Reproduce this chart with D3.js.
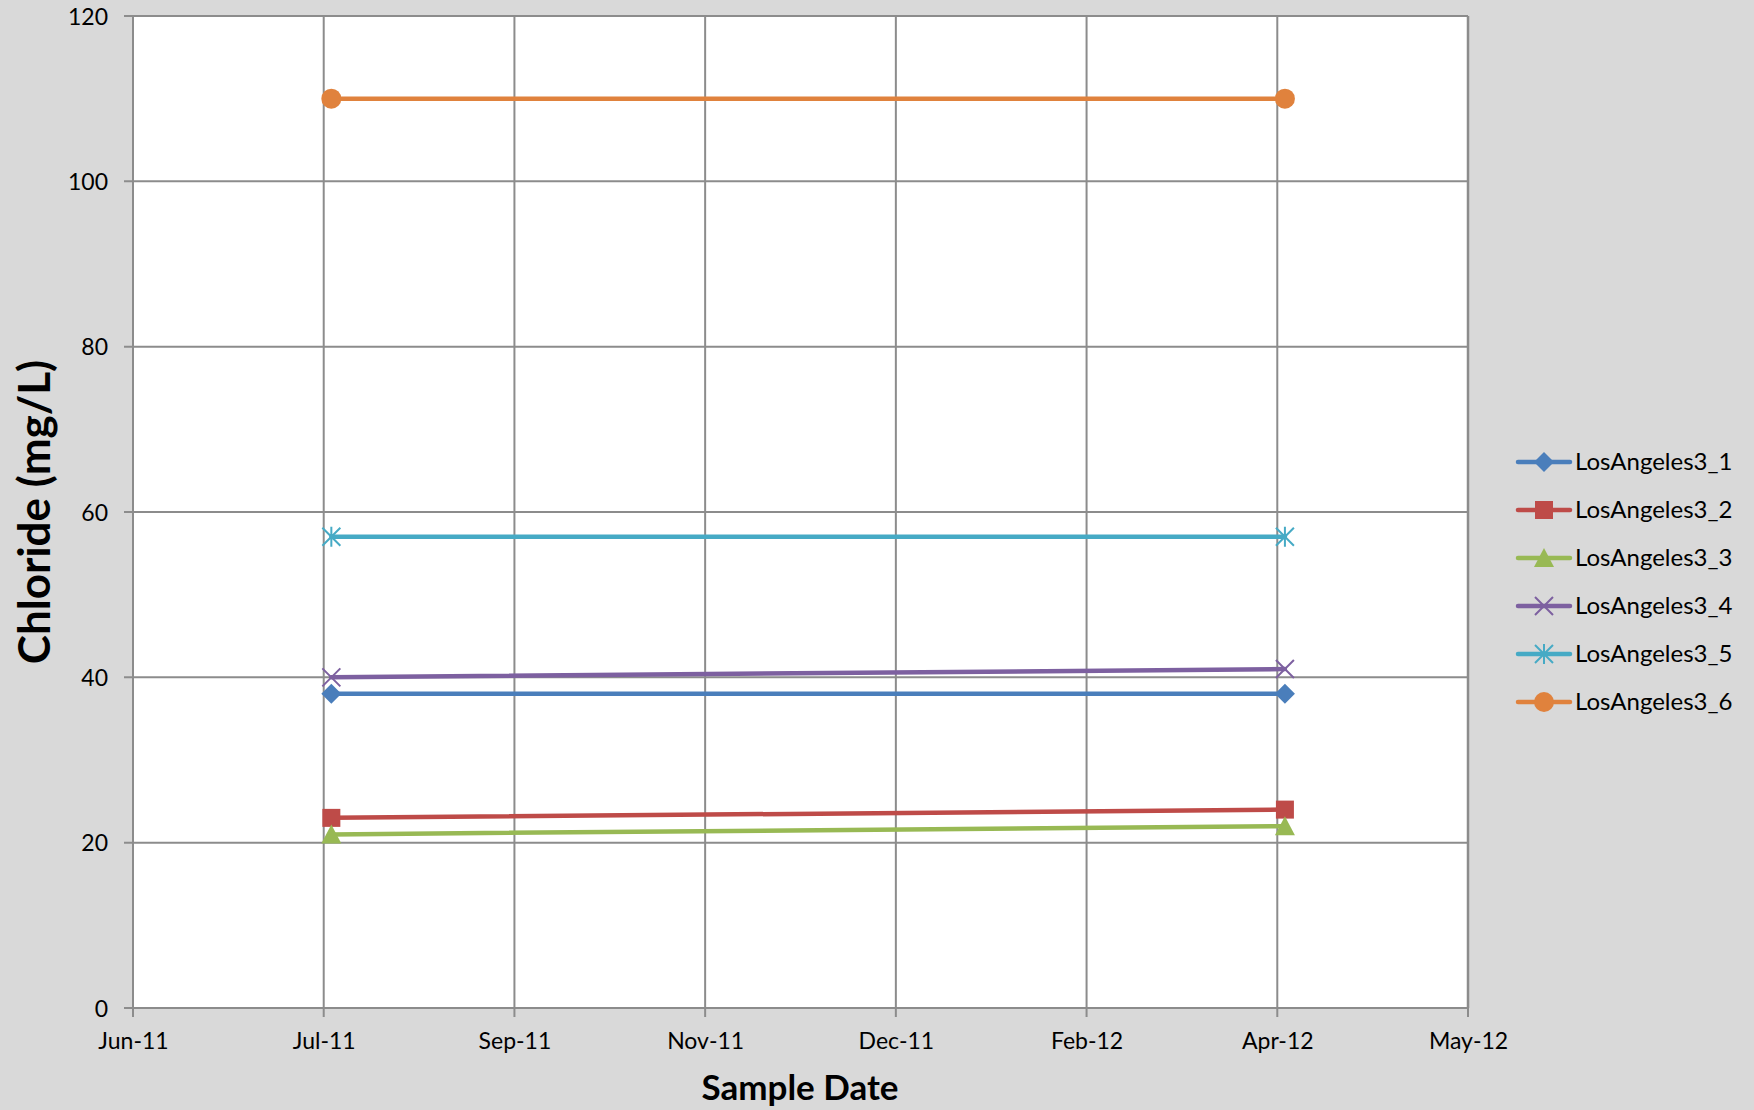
<!DOCTYPE html>
<html><head><meta charset="utf-8">
<script src="https://cdn.jsdelivr.net/npm/d3@7"></script>
<style>html,body{margin:0;padding:0;background:#d9d9d9;}svg{display:block;}</style>
</head><body>
<svg id="chart" width="1754" height="1110"></svg>
<script>
const seriesNames = ["LosAngeles3_1","LosAngeles3_2","LosAngeles3_3","LosAngeles3_4","LosAngeles3_5","LosAngeles3_6"];
const sampleDates = ["2011-07-30","2012-04-05"];
const values1 = [38, 38];
const values2 = [23, 24];
const values3 = [21, 22];
const values4 = [40, 41];
const values5 = [57, 57];
const values6 = [110, 110];
const seriesColors = ["#4A7EBB","#BE4B48","#98B954","#7D60A0","#46AAC5","#E0823D"];
const markerTypes = ["diamond","square","triangle","x","star","circle"];
const xTickDates = ["2011-06-08","2011-07-28","2011-09-16","2011-11-05","2011-12-25","2012-02-13","2012-04-03","2012-05-23"];
const yTicks = [0,20,40,60,80,100,120];

const allValues = [values1,values2,values3,values4,values5,values6];
const parse = d3.utcParse("%Y-%m-%d");
const fmt = d3.utcFormat("%b-%y");
const font = "Lato, 'Open Sans', sans-serif";

const svg = d3.select("#chart");
const L = 133, R = 1468, T = 16, B = 1008;
svg.append("rect").attr("width",1754).attr("height",1110).attr("fill","#d9d9d9");
svg.append("rect").attr("x",L).attr("y",T).attr("width",R-L).attr("height",B-T).attr("fill","#ffffff");

const x = d3.scaleUtc().domain([parse(xTickDates[0]), parse(xTickDates[xTickDates.length-1])]).range([L,R]);
const y = d3.scaleLinear().domain([0,120]).range([B,T]);

const grid = svg.append("g");
xTickDates.forEach(d => {
  grid.append("line").attr("x1",x(parse(d))).attr("x2",x(parse(d))).attr("y1",T).attr("y2",B+9)
    .attr("stroke","#8c8c8c").attr("stroke-width",2);
});
yTicks.forEach(v => {
  grid.append("line").attr("x1",L-9).attr("x2",R).attr("y1",y(v)).attr("y2",y(v))
    .attr("stroke","#8c8c8c").attr("stroke-width",2);
});
grid.append("line").attr("x1",R).attr("x2",R).attr("y1",T).attr("y2",B).attr("stroke","#8c8c8c").attr("stroke-width",2.5);

const yAxis = d3.axisLeft(y).tickValues(yTicks).tickSize(0).tickPadding(0);
const gy = svg.append("g").attr("transform",`translate(${L-25},0)`).call(yAxis);
gy.select(".domain").remove();
gy.selectAll("text").attr("font-family",font).attr("font-size",23).attr("fill","#000").attr("dy","0.35em");

const xAxis = d3.axisBottom(x).tickValues(xTickDates.map(parse)).tickFormat(fmt).tickSize(0).tickPadding(0);
const gx = svg.append("g").attr("transform",`translate(0,${B+25})`).call(xAxis);
gx.select(".domain").remove();
gx.selectAll("text").attr("font-family",font).attr("font-size",23).attr("fill","#000").attr("dy","0.71em");

svg.append("text").attr("x",800).attr("y",1100).attr("text-anchor","middle")
  .attr("font-family",font).attr("font-weight","bold").attr("font-size",35).text("Sample Date");
svg.append("text").attr("transform","translate(50,512) rotate(-90)").attr("text-anchor","middle")
  .attr("font-family",font).attr("font-weight","bold").attr("font-size",44).text("Chloride (mg/L)");

function drawMarker(g, type, cx, cy, color) {
  const s = 10;
  if (type === "diamond") {
    g.append("path").attr("d",`M${cx},${cy-s} L${cx+s},${cy} L${cx},${cy+s} L${cx-s},${cy} Z`).attr("fill",color);
  } else if (type === "square") {
    g.append("rect").attr("x",cx-9).attr("y",cy-9).attr("width",18).attr("height",18).attr("fill",color);
  } else if (type === "triangle") {
    g.append("path").attr("d",`M${cx},${cy-10} L${cx+10},${cy+9} L${cx-10},${cy+9} Z`).attr("fill",color);
  } else if (type === "x") {
    g.append("path").attr("d",`M${cx-9},${cy-9} L${cx+9},${cy+9} M${cx-9},${cy+9} L${cx+9},${cy-9}`).attr("stroke",color).attr("stroke-width",2);
  } else if (type === "star") {
    g.append("path").attr("d",`M${cx-9},${cy-9} L${cx+9},${cy+9} M${cx-9},${cy+9} L${cx+9},${cy-9} M${cx},${cy-10} L${cx},${cy+10}`).attr("stroke",color).attr("stroke-width",2);
  } else if (type === "circle") {
    g.append("circle").attr("cx",cx).attr("cy",cy).attr("r",10).attr("fill",color);
  }
}

const line = d3.line().x(d => x(d.date)).y(d => y(d.v));
allValues.forEach((vals, i) => {
  const data = vals.map((v, j) => ({date: parse(sampleDates[j]), v}));
  const g = svg.append("g");
  g.append("path").datum(data).attr("d",line).attr("fill","none").attr("stroke",seriesColors[i])
    .attr("stroke-width",4.5).attr("stroke-linecap","round");
  data.forEach(d => drawMarker(g, markerTypes[i], x(d.date), y(d.v), seriesColors[i]));
});

const legY0 = 462, legStep = 48;
seriesNames.forEach((name, i) => {
  const g = svg.append("g");
  const yy = legY0 + i*legStep;
  g.append("line").attr("x1",1518).attr("x2",1570).attr("y1",yy).attr("y2",yy)
    .attr("stroke",seriesColors[i]).attr("stroke-width",4.5).attr("stroke-linecap","round");
  drawMarker(g, markerTypes[i], 1544, yy, seriesColors[i]);
  g.append("text").attr("x",1575).attr("y",yy).attr("dy","0.35em").attr("font-family",font)
    .attr("font-size",24).attr("fill","#000").text(name);
});
</script>
</body></html>
